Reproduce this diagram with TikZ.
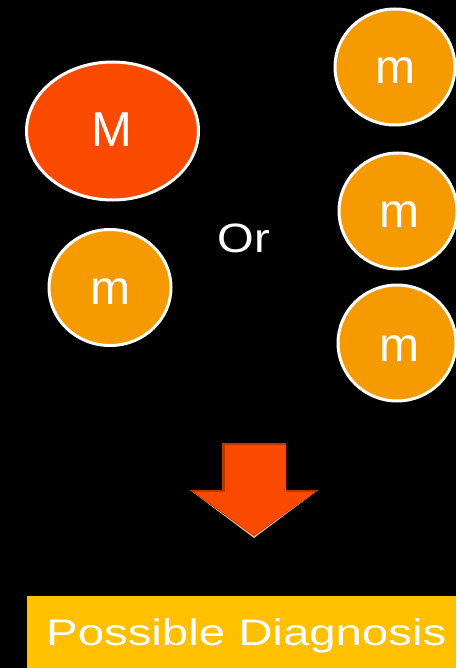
\documentclass[tikz,border=0pt]{standalone}
\usepackage{fontspec}
\setmainfont{Liberation Sans}
\usetikzlibrary{shapes.geometric}
\definecolor{bigred}{HTML}{FA4A00}
\definecolor{smallorg}{HTML}{F59A00}
\definecolor{boxyel}{HTML}{FFC000}
\definecolor{arrowdark}{HTML}{B83800}
\definecolor{arrowlight}{HTML}{F0B090}
\begin{document}
\begin{tikzpicture}[x=1pt,y=-1pt,
  rim/.style={draw=white, line width=3pt},
  bigtxt/.style={text=white, inner sep=0pt, font=\fontsize{49}{49}\selectfont},
  smalltxt/.style={text=white, inner sep=0pt, font=\fontsize{48}{48}\selectfont}]
\fill[black] (0,0) rectangle (456,668);
\useasboundingbox (0,0) rectangle (456,668);
% big M
\filldraw[rim, fill=bigred] (112.5,131) ellipse [x radius=86, y radius=69];
\node[bigtxt] (M) at (112,130) {M};
% small m left
\filldraw[rim, fill=smallorg] (110,287.5) ellipse [x radius=61, y radius=58];
\node[smalltxt] (m1) at (110,292) {m};
% Or
\node[text=white, inner sep=0pt, font=\fontsize{41}{41}\selectfont] (or) at (244,238) {\scalebox{1.15}[1]{Or}};
% right circles
\filldraw[rim, fill=smallorg] (395,67) ellipse [x radius=60, y radius=58];
\node[smalltxt] (m2) at (395,71) {m};
\filldraw[rim, fill=smallorg] (398,211) ellipse [x radius=59, y radius=58];
\node[smalltxt] (m3) at (399,215) {m};
\filldraw[rim, fill=smallorg] (397,343) ellipse [x radius=59, y radius=58];
\node[smalltxt] (m4) at (399,349) {m};
% arrow
\fill[arrowlight] (190,490) -- (254,538) -- (318,490) -- cycle;
\fill[arrowdark] (222,443) -- (286,443) -- (286,490) -- (318,490) -- (254,536) -- (190,490) -- (222,490) -- cycle;
\fill[bigred] (225,445) -- (286,445) -- (286,492) -- (315,492) -- (254,535) -- (194,492) -- (225,492) -- cycle;
% box
\fill[boxyel] (27,596) rectangle (456,668);
\node[text=white, inner sep=0pt, font=\fontsize{37}{37}\selectfont, anchor=base west] (pd) at (46,645) {\scalebox{1.28}[1]{Possible Diagnosis}};
\end{tikzpicture}
\end{document}
